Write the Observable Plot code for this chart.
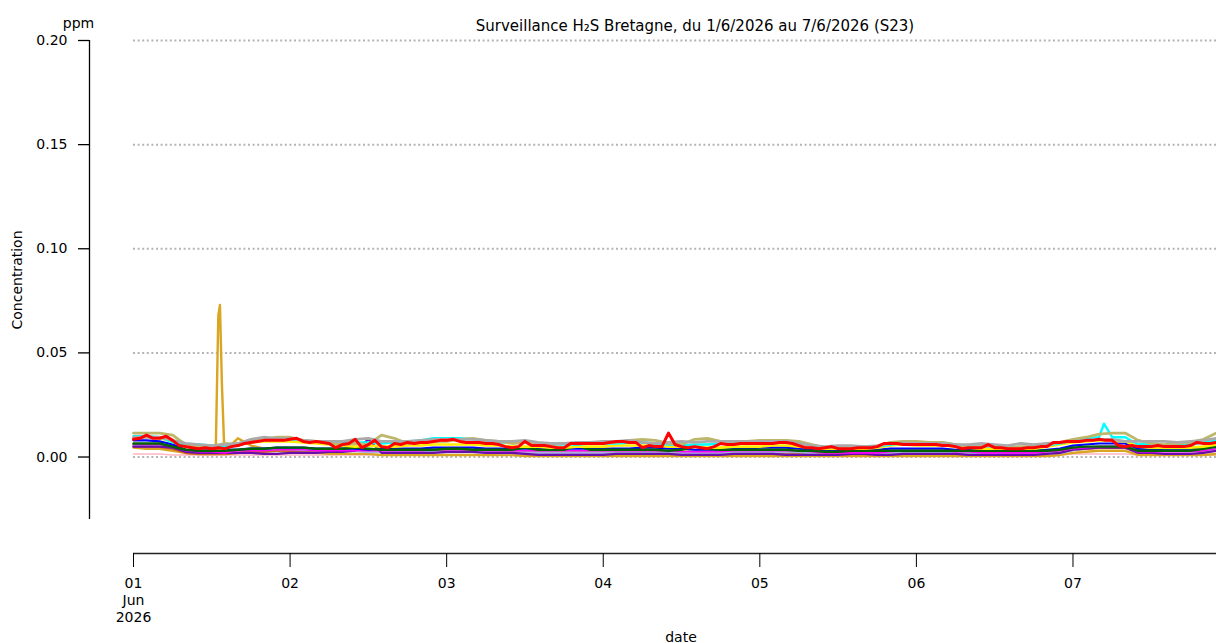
<!DOCTYPE html>
<html>
<head>
<meta charset="utf-8">
<script src="https://cdn.jsdelivr.net/npm/d3@7"></script>
<script src="https://cdn.jsdelivr.net/npm/@observablehq/plot@0.6"></script>
<style>
  html, body { margin: 0; padding: 0; background: #fff; }
  #chart { width: 1216px; height: 643px; overflow: hidden; }
</style>
</head>
<body>
<div id="chart"></div>
<script>
// ---------- data (concentrations in ppb = ppm/1000) ----------
const startUTC = Date.UTC(2026, 5, 1); // 1 June 2026
const titleText = "Surveillance H\u2082S Bretagne, du 1/6/2026 au 7/6/2026 (S23)";
const yTicks = [0, 0.05, 0.10, 0.15, 0.20];
const dayTickHours = [0, 24, 48, 72, 96, 120, 144];
const lastHour = 166;

// hourly series
const redPpb = [
  8.5, 9, 10.5, 9, 9, 10, 8, 5.5, 5, 4.5, 4, 4.5,
  4, 4.5, 4, 5, 5.5, 6.5, 7, 7.5, 8, 8, 8, 8,
  8.5, 9, 7.5, 7, 7.5, 7, 6.5, 4.5, 6, 6.5, 8.5, 4.5,
  6, 8, 5, 4.5, 6.5, 6, 7, 6.5, 7, 7, 7.5, 8,
  8, 8.5, 7.5, 7, 7, 7, 6.5, 6.5, 6, 5, 4.5, 5,
  7.5, 5.5, 5.5, 5.5, 5, 4.5, 4.5, 6.5, 6.5, 6.5, 6.5, 6.5,
  6.5, 7, 7.5, 7.5, 7, 7, 4.5, 5.5, 5, 5, 11.5, 6,
  5, 4.5, 5, 4.5, 4, 5, 6.5, 6, 6, 6.5, 6.5, 6.5,
  6.5, 6.5, 6.5, 7, 7, 6.5, 5.5, 4.5, 4.5, 4, 4.5, 5,
  4, 4, 4, 4.5, 4.5, 4.5, 5, 6.5, 6.5, 6.5, 6, 6,
  6, 6, 6, 6, 5.5, 5.5, 5, 4, 4.5, 4.5, 4.5, 6,
  4.5, 4.5, 4, 4, 4, 4.5, 4.5, 5, 5, 7, 7, 7.5,
  7.5, 7.5, 8, 8, 8.5, 8, 8, 5.5, 5, 5.5, 5, 5,
  5, 5.5, 5, 5, 5, 5, 5.5, 7, 6.5, 6.5, 7
];

// two-hourly series (one row = one day)
const grayPpb = [
  9.5, 9.5, 9.5, 8, 6.5, 6, 5.5, 6, 6.5, 8.5, 9.5, 9,
  9, 8, 7.5, 7.5, 7.5, 8.5, 9, 7.5, 7.5, 7.5, 8, 8.5,
  8.5, 8.5, 8.5, 8, 7.5, 7.5, 8, 7, 6.5, 6.5, 7, 7,
  7.5, 7.5, 8, 7, 6.5, 7, 7.5, 7, 7.5, 7.5, 7.5, 7.5,
  7.5, 7.5, 7.5, 6.5, 5.5, 5, 5.5, 5.5, 5, 5.5, 6.5, 6.5,
  6.5, 6.5, 6.5, 6, 6, 6.5, 6, 5.5, 6.5, 6, 6.5, 7,
  7.5, 8, 8.5, 8.5, 7.5, 7.5, 7.5, 7.5, 7, 7.5, 8, 9
];
const khakiPpb = [
  11.5, 11.5, 11.5, 10.5, 6, 5.5, 5, 6.5, 6, 7.5, 8.5, 9.5,
  9.5, 8, 7.5, 7, 6, 6.5, 6, 10.5, 9, 6.5, 7, 7.5,
  7.5, 8.5, 9, 8, 7.5, 6.5, 7, 6.5, 6, 6.5, 6.5, 6.5,
  7, 7, 8, 8.5, 8, 6.5, 6, 8.5, 9, 7.5, 7.5, 7.5,
  8, 8, 8, 7.5, 6, 4.5, 4.5, 4.5, 5, 5, 7, 7.5,
  7.5, 7, 7, 6, 5, 5, 5.5, 4.5, 5, 5, 6, 7,
  8.5, 9.5, 11, 11.5, 11.5, 8, 6.5, 6, 6.5, 7, 8.5, 11.5
];
const cyanPpb = [
  10, 10, 9.5, 7, 6, 6, 5.5, 5, 5.5, 7.5, 8, 8.5,
  8.5, 8, 7.5, 6.5, 6.5, 7, 7, 6.5, 7, 7.5, 8, 9,
  9, 9, 8.5, 8, 7, 7, 7, 6.5, 6, 6, 6, 6.5,
  6.5, 6.5, 7, 7, 6.5, 6, 5.5, 6, 6, 6.5, 7, 7,
  7.5, 8, 8, 7, 5.5, 4.5, 4.5, 4.5, 5, 5, 6, 6.5,
  6.5, 7, 7, 6, 5, 5, 5, 4.5, 4.5, 5, 5.5, 6.5,
  8, 9, 9.5, 9.5, 9.5, 6, 6.5, 5.5, 6, 6, 7, 8
];
const cyanSpikeHours = [148.75];
const cyanSpikePpb = [16];
const yellowPpb = [
  9.5, 9.5, 9, 7.5, 5, 4.5, 4.5, 4, 6.5, 7, 7.5, 7.5,
  7.5, 7, 6.5, 6, 5.5, 5, 5.5, 5, 5, 5.5, 5.5, 6,
  6, 6, 6, 5.5, 5.5, 5, 5, 5, 4.5, 4.5, 5, 5,
  5, 5.5, 5.5, 5.5, 5.5, 5, 5, 5, 4.5, 4.5, 5, 5,
  5, 5.5, 5.5, 5, 4.5, 4, 4, 4, 4, 4.5, 5.5, 6,
  5.5, 5.5, 5.5, 5, 4.5, 4, 4, 4, 4, 4, 5, 6,
  7, 7.5, 8, 8, 7.5, 5, 4.5, 4.5, 4.5, 4.5, 5, 6
];
const greenPpb = [
  6.5, 6.5, 6.5, 5, 3.5, 3, 3, 3, 3.5, 4, 4, 4.5,
  4.5, 4.5, 4, 4, 4, 4.5, 4, 3.5, 3.5, 3.5, 3.5, 3.5,
  4, 4, 3.5, 3.5, 3.5, 3.5, 4.5, 3.5, 3.5, 3.5, 5.5, 3.5,
  3.5, 3.5, 3.5, 3.5, 3.5, 3, 3.5, 5, 4, 3.5, 3.5, 3.5,
  3.5, 3.5, 3.5, 3, 3, 2.5, 2.5, 3, 3, 3, 3, 3,
  3, 3, 3, 3, 3, 3, 3, 3, 3, 3, 3, 3.5,
  4.5, 5, 5, 5, 5, 3, 3, 3, 3, 3, 4, 5
];
const bluePpb = [
  8, 8, 7.5, 6, 3.5, 3, 3, 3.5, 3.5, 4, 4, 4.5,
  4.5, 4.5, 4, 4, 4, 4, 3.5, 4, 4, 4, 4, 4.5,
  4.5, 4.5, 4.5, 4, 4, 4, 4, 4, 3.5, 4, 4, 4,
  4, 4, 4, 4.5, 4.5, 4, 4, 3.5, 3.5, 3.5, 4, 4,
  4.5, 4.5, 4.5, 4, 3.5, 3, 3, 3, 3, 3.5, 4, 4,
  4, 4, 4, 3.5, 3.5, 3, 3, 3, 3, 3, 3.5, 4,
  5.5, 6, 6.5, 6.5, 6.5, 4, 3.5, 4, 4, 4, 4.5, 5.5
];
const purplePpb = [
  5, 5, 5, 4.5, 2.5, 2, 2, 2, 2, 2, 1.5, 1.5,
  2, 2, 2, 2.5, 2.5, 3, 8.5, 2, 2, 2, 2, 2,
  2.5, 2.5, 2.5, 2, 2, 2, 1.5, 1, 1, 1, 1, 1,
  1, 1.5, 1.5, 1.5, 1.5, 1.5, 1, 1, 1, 1, 1.5, 1.5,
  1.5, 1.5, 1, 1, 1, 1, 1, 1.5, 1.5, 1, 1, 1.5,
  1.5, 1.5, 1.5, 1.5, 1, 1, 1, 1, 1, 1, 1.5, 2,
  3.5, 4, 4.5, 4.5, 4.5, 2, 2, 1.5, 1.5, 1.5, 2, 3
];
const magentaPpb = [
  6, 6, 6, 5.5, 3, 2.5, 2.5, 2, 3, 3, 3, 3.5,
  3.5, 3.5, 3, 3, 3, 3, 3, 3, 3, 3, 3, 3.5,
  3.5, 3.5, 3.5, 3, 3, 3, 3, 3, 3, 3, 3, 3,
  3, 3, 3, 3, 3, 3, 2.5, 2.5, 2.5, 2.5, 3, 3,
  3, 3, 3, 3, 2.5, 2, 2, 2, 2, 2, 2.5, 3,
  3, 3, 3, 2.5, 2.5, 2, 2, 2, 2, 2, 2.5, 3,
  4, 4.5, 5, 5, 5, 2.5, 2.5, 2.5, 2.5, 2.5, 3, 4
];
const chocolatePpb = [
  5, 5, 5, 4, 2, 1.5, 1.5, 1.5, 2, 2.5, 2.5, 3,
  3, 3, 3, 3, 3, 3.5, 3.5, 3, 3, 3, 3, 3,
  3, 3, 3, 3, 2.5, 2.5, 2.5, 2.5, 2.5, 2.5, 2.5, 2.5,
  2.5, 2.5, 2.5, 2.5, 2.5, 2.5, 2.5, 2.5, 2.5, 2, 2, 2,
  2, 2, 2, 2, 1.5, 1.5, 1.5, 1.5, 1.5, 1.5, 2, 2,
  2, 2, 2, 2, 2, 1.5, 1.5, 1.5, 1.5, 1.5, 2, 2.5,
  3.5, 4, 4.5, 4.5, 4.5, 3, 3, 3, 3, 3, 3, 3.5
];
const lavenderPpb = [
  6, 6, 6, 5, 3.5, 3.5, 3.5, 3.5, 3.5, 4, 4, 4,
  4, 3.5, 3.5, 3, 3, 3, 2.5, 2.5, 2.5, 2.5, 2.5, 2.5,
  2.5, 2.5, 2.5, 2.5, 2, 2, 2, 2, 2, 2, 2, 2,
  2, 2, 2, 2, 2, 2, 2, 2, 2, 2, 2, 2,
  2.5, 2.5, 2.5, 2.5, 2, 2.5, 2.5, 2, 2, 2, 2, 2,
  2, 2, 2, 2, 2, 2, 2, 2, 2, 2, 2, 2,
  3.5, 4.5, 5, 5, 5, 3, 3, 3.5, 3.5, 3.5, 3.5, 3.5
];
const goldenrodPpb = [
  4.5, 4, 4, 3, 2, 1.5, 2, 3, 9, 5.5, 4, 3,
  2.5, 2, 2, 1.5, 1.5, 1.5, 1.5, 1, 1, 1, 1, 1,
  1, 1, 1, 1, 1, 1, 0.5, 0.5, 0.5, 0.5, 0.5, 0.5,
  0.5, 0.5, 0.5, 0.5, 0.5, 0.5, 0.5, 0.5, 0.5, 0.5, 0.5, 0.5,
  0.5, 0.5, 0.5, 0.5, 0.5, 0.5, 0.5, 0.5, 0.5, 0.5, 0.5, 0.5,
  0.5, 0.5, 0.5, 0.5, 0.5, 0.5, 0.5, 0.5, 0.5, 0.5, 0.5, 1,
  2, 2.5, 3, 3, 3, 1, 1, 1, 1, 1, 1, 1.5
];
const goldenrodSpikeHours = [12.6, 13.0, 13.25, 13.55, 13.9];
const goldenrodSpikePpb = [2, 68, 73, 35, 5];
const pinkPpb = [
  1.5, 1.5, 1.5, 1, 1, 1, 1, 1, 1, 1, 1, 1,
  1, 1, 1, 1, 1, 1, 1, 1, 1, 1, 1, 1,
  1, 1, 1, 1, 1, 1, 1, 1, 1, 0.5, 0.5, 0.5,
  0.5, 0.5, 0.5, 0.5, 0.5, 0.5, 0.5, 0.5, 0.5, 0.5, 0.5, 0.5,
  0.5, 0.5, 0.5, 0.5, 0.5, 0.5, 0.5, 0.5, 0.5, 0.5, 0.5, 0.5,
  0.5, 0.5, 0.5, 0.5, 0.5, 0.5, 0.5, 0.5, 0.5, 0.5, 0.5, 1,
  1.5, 1.5, 1.5, 1.5, 1.5, 1, 1, 1, 1, 1, 1, 1
];

// ---------- styles (kept separate from the data) ----------
const seriesList = [
  {values: pinkPpb, step: 2, color: "#ffb6c1", width: 1.5},
  {values: goldenrodPpb, step: 2, color: "#daa520", width: 2.4, extraH: goldenrodSpikeHours, extraV: goldenrodSpikePpb},
  {values: chocolatePpb, step: 2, color: "#d2691e", width: 2.6},
  {values: lavenderPpb, step: 2, color: "#aab0dc", width: 3},
  {values: purplePpb, step: 2, color: "#6a0dad", width: 2.2},
  {values: magentaPpb, step: 2, color: "#ff00ff", width: 1.6},
  {values: bluePpb, step: 2, color: "#0000ff", width: 2.2},
  {values: greenPpb, step: 2, color: "#006400", width: 2.4},
  {values: yellowPpb, step: 2, color: "#ffee00", width: 2.6},
  {values: cyanPpb, step: 2, color: "#00ffff", width: 2.4, extraH: cyanSpikeHours, extraV: cyanSpikePpb},
  {values: khakiPpb, step: 2, color: "#bdb76b", width: 2.8},
  {values: grayPpb, step: 2, color: "#a9a9a9", width: 2.8},
  {values: redPpb, step: 1, color: "#ff0000", width: 3}
];

const toDate = h => new Date(startUTC + h * 3600e3);

function buildRows(s) {
  const pts = s.values.map((v, i) => ({h: i * s.step, v}));
  if (s.extraH) s.extraH.forEach((h, i) => pts.push({h, v: s.extraV[i]}));
  pts.sort((a, b) => a.h - b.h);
  return pts.map(p => ({date: toDate(p.h), ppm: p.v / 1000}));
}

const dayTicks = dayTickHours.map(toDate);
const xStart = toDate(0);
const xEnd = toDate(lastHour);
const fmtDay = d3.utcFormat("%d");

const lineMarks = seriesList.map(s =>
  Plot.lineY(buildRows(s), {x: "date", y: "ppm", stroke: s.color, strokeWidth: s.width, strokeLinejoin: "round"})
);

const chart = Plot.plot({
  width: 1216,
  height: 643,
  marginLeft: 133,
  marginRight: 0,
  marginTop: 40,
  marginBottom: 124,
  style: {fontFamily: "DejaVu Sans, sans-serif", fontSize: "14px", background: "#fff", color: "#000", overflow: "visible"},
  x: {type: "utc", domain: [xStart, xEnd]},
  y: {domain: [-0.03, 0.2]},
  marks: [
    Plot.ruleY(yTicks, {stroke: "#b4b4b4", strokeWidth: 2, strokeDasharray: "2,2.6"}),
    ...lineMarks,
    // y axis (offset to the left of the plotting area)
    Plot.ruleX([xStart], {dx: -44, stroke: "#000", strokeWidth: 1.3}),
    Plot.axisY(yTicks, {anchor: "left", dx: -44, tickSize: 11, tickPadding: 11, tickFormat: d => d.toFixed(2), fontSize: 14, label: null, stroke: "#000", strokeWidth: 1.3}),
    // x axis (offset below the plotting area)
    Plot.ruleY([-0.03], {dy: 34, stroke: "#222", strokeWidth: 1.6}),
    Plot.axisX(dayTicks, {anchor: "bottom", dy: 34, tickSize: 14, tickPadding: 9, fontSize: 14, lineHeight: 1.2, label: null,
      tickFormat: (d, i) => i === 0 ? `${fmtDay(d)}\nJun\n2026` : fmtDay(d)}),
    // texts
    Plot.text([titleText], {frameAnchor: "top", dx: 20, dy: -20, fontSize: 15}),
    Plot.text(["ppm"], {frameAnchor: "top-left", dx: -55, dy: -22, fontSize: 14, textAnchor: "middle"}),
    Plot.text(["Concentration"], {frameAnchor: "left", dx: -116, rotate: -90, fontSize: 14, textAnchor: "middle"}),
    Plot.text(["date"], {frameAnchor: "bottom", dx: 6, dy: 122, fontSize: 14})
  ]
});

document.getElementById("chart").appendChild(chart);
</script>
</body>
</html>
